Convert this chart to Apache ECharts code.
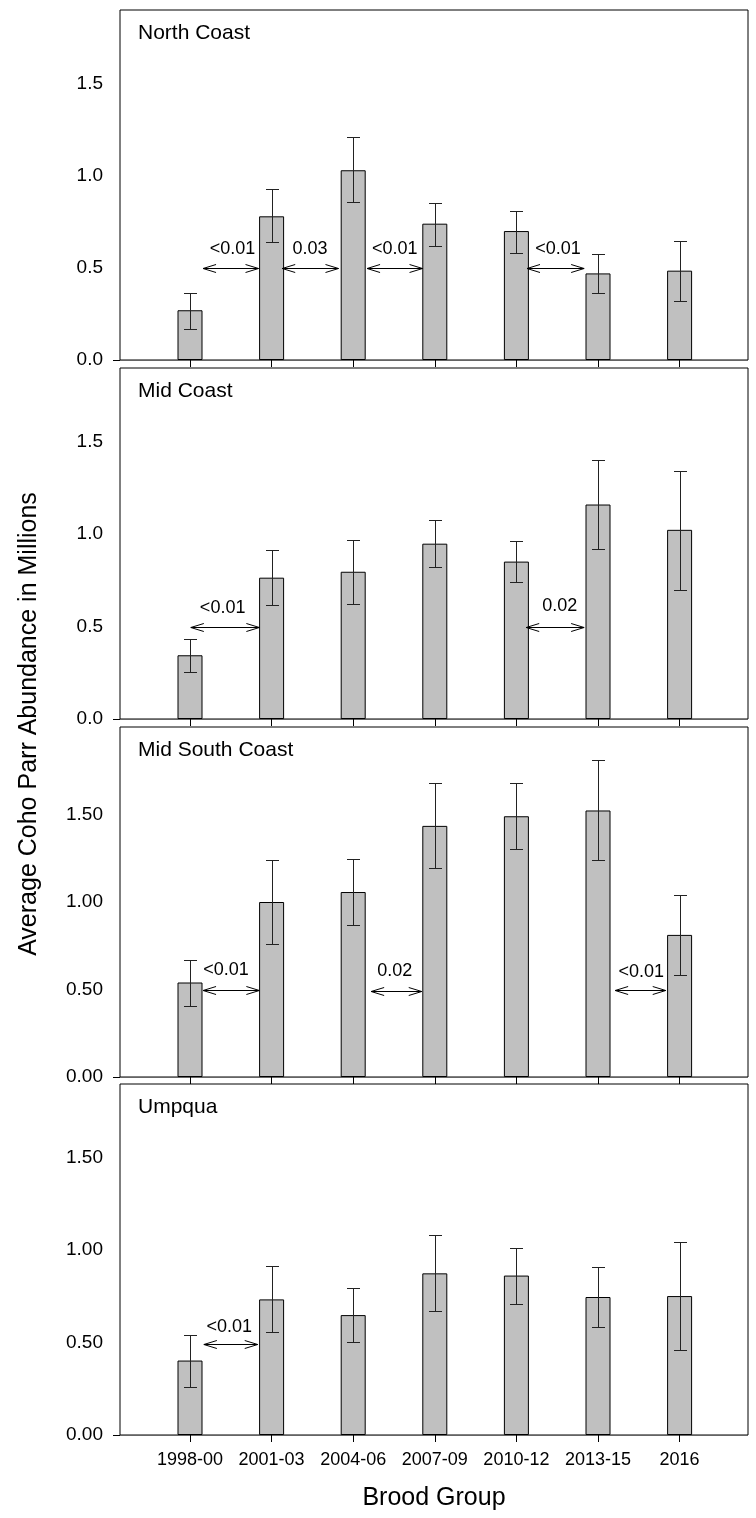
<!DOCTYPE html>
<html><head><meta charset="utf-8">
<script src="https://cdn.jsdelivr.net/npm/echarts/dist/echarts.min.js"></script>
<style>html,body{margin:0;padding:0;background:#fff}#c{width:756px;height:1518px}</style>
</head><body><div id="c"></div>
<script>
const categories = ['1998-00','2001-03','2004-06','2007-09','2010-12','2013-15','2016'];
const panelNames = ['North Coast','Mid Coast','Mid South Coast','Umpqua'];
const northMean = [0.27,0.78,1.03,0.74,0.70,0.47,0.485];
const northLow  = [0.17,0.64,0.86,0.62,0.58,0.365,0.32];
const northHigh = [0.365,0.93,1.21,0.855,0.81,0.575,0.647];
const midMean = [0.345,0.765,0.797,0.949,0.852,1.161,1.024];
const midLow  = [0.257,0.617,0.624,0.823,0.740,0.922,0.700];
const midHigh = [0.434,0.913,0.967,1.078,0.964,1.403,1.344];
const midSouthMean = [0.540,1.000,1.057,1.435,1.490,1.523,0.812];
const midSouthLow  = [0.407,0.759,0.869,1.194,1.304,1.238,0.582];
const midSouthHigh = [0.669,1.241,1.245,1.679,1.679,1.812,1.042];
const umpquaMean = [0.403,0.734,0.649,0.875,0.863,0.747,0.752];
const umpquaLow  = [0.262,0.557,0.503,0.671,0.711,0.584,0.459];
const umpquaHigh = [0.544,0.913,0.796,1.080,1.011,0.911,1.045];
// significance arrows: [from, to (category position), y, p-value label, label position, label y]
const northArrows = [[0.16,0.84,0.5,'<0.01',0.52,0.6],[1.13,1.82,0.5,'0.03',1.47,0.6],[2.17,2.85,0.5,'<0.01',2.51,0.6],[4.13,4.83,0.5,'<0.01',4.51,0.6]];
const midArrows = [[0.01,0.85,0.5,'<0.01',0.4,0.6],[4.12,4.83,0.5,'0.02',4.53,0.61]];
const midSouthArrows = [[0.16,0.85,0.5,'<0.01',0.44,0.612],[2.22,2.84,0.49,'0.02',2.51,0.603],[5.21,5.83,0.5,'<0.01',5.53,0.6]];
const umpquaArrows = [[0.17,0.83,0.495,'<0.01',0.48,0.582]];
const yMax = [1.9,1.9,2.0,1.9];
const yDecimals = [1,1,2,2];
const yTitle = 'Average Coho Parr Abundance in Millions';
const xTitle = 'Brood Group';

const FONT = 'Liberation Sans, Arial, sans-serif';
const panels = [
  {mean: northMean, low: northLow, high: northHigh, arrows: northArrows, top: 10, height: 350},
  {mean: midMean, low: midLow, high: midHigh, arrows: midArrows, top: 368, height: 351},
  {mean: midSouthMean, low: midSouthLow, high: midSouthHigh, arrows: midSouthArrows, top: 727, height: 350},
  {mean: umpquaMean, low: umpquaLow, high: umpquaHigh, arrows: umpquaArrows, top: 1084, height: 351}
];
const FRAME_L = 120, FRAME_W = 628, DATA_L = 149.2, DATA_W = 571.2;

const grid = [], xAxis = [], yAxis = [], series = [], graphic = [];
panels.forEach((p, i) => {
  grid.push({left: FRAME_L, width: FRAME_W, top: p.top, height: p.height, show: true,
    borderColor: '#000', borderWidth: 1, backgroundColor: 'transparent', z: 5});
  grid.push({left: DATA_L, width: DATA_W, top: p.top, height: p.height, show: false});
  xAxis.push({gridIndex: 2*i, type: 'value', min: 0, max: 1, show: false});
  xAxis.push({gridIndex: 2*i+1, type: 'category', data: categories, boundaryGap: true,
    axisLine: {show: false},
    axisTick: {show: true, interval: 0, alignWithLabel: true, length: 7, lineStyle: {color: '#000', width: 1}},
    axisLabel: {show: i === 3, interval: 0, fontSize: 18, color: '#000', fontFamily: FONT, margin: 16},
    splitLine: {show: false}});
  yAxis.push({gridIndex: 2*i, type: 'value', min: 0, max: yMax[i], interval: 0.5,
    axisLine: {show: false},
    axisTick: {show: true, customValues: [0], length: 7, lineStyle: {color: '#000', width: 1}},
    axisLabel: {showMaxLabel: false, fontSize: 19, color: '#000', fontFamily: FONT, margin: 17,
      formatter: v => (Math.abs(v/0.5 - Math.round(v/0.5)) < 1e-6) ? v.toFixed(yDecimals[i]) : ''},
    splitLine: {show: true, lineStyle: {color: '#c8c8c8', width: 1}}});
  yAxis.push({gridIndex: 2*i+1, type: 'value', min: 0, max: yMax[i], show: false});

  series.push({type: 'bar', xAxisIndex: 2*i+1, yAxisIndex: 2*i+1, data: p.mean, barWidth: 25,
    itemStyle: {color: '#c0c0c0', borderColor: '#000', borderWidth: 1}, silent: true, z: 2});
  series.push({type: 'custom', xAxisIndex: 2*i+1, yAxisIndex: 2*i+1, z: 3, silent: true,
    data: categories.map((c, j) => [j, p.low[j], p.high[j]]),
    renderItem: (params, api) => {
      const lo = api.coord([api.value(0), api.value(1)]);
      const hi = api.coord([api.value(0), api.value(2)]);
      const x = Math.round(lo[0]) + 0.5, y1 = Math.round(lo[1]) + 0.5, y2 = Math.round(hi[1]) + 0.5;
      const hw = 6.5, st = {stroke: '#222', lineWidth: 1};
      return {type: 'group', children: [
        {type: 'line', shape: {x1: x, y1: y1, x2: x, y2: y2}, style: st},
        {type: 'line', shape: {x1: x - hw, y1: y1, x2: x + hw, y2: y1}, style: st},
        {type: 'line', shape: {x1: x - hw, y1: y2, x2: x + hw, y2: y2}, style: st}
      ]};
    }});
  series.push({type: 'custom', xAxisIndex: 2*i+1, yAxisIndex: 2*i+1, z: 4, silent: true,
    data: p.arrows.map(a => [0, a[2], a[0], a[1], a[4], a[5]]),
    renderItem: (params, api) => {
      const base = api.coord([0, api.value(1)]);
      const band = api.size([1, 0])[0];
      const y = Math.round(base[1]) + 0.5;
      const x1 = base[0] + api.value(2) * band, x2 = base[0] + api.value(3) * band;
      const lx = base[0] + api.value(4) * band;
      const ly = api.coord([0, api.value(5)])[1];
      const L = 13, H = 4, st = {stroke: '#000', lineWidth: 1, fill: null};
      return {type: 'group', children: [
        {type: 'line', shape: {x1: x1, y1: y, x2: x2, y2: y}, style: st},
        {type: 'polyline', shape: {points: [[x1 + L, y - H], [x1, y], [x1 + L, y + H]]}, style: st},
        {type: 'polyline', shape: {points: [[x2 - L, y - H], [x2, y], [x2 - L, y + H]]}, style: st},
        {type: 'text', style: {text: p.arrows[params.dataIndex][3], x: lx, y: ly, align: 'center',
          verticalAlign: 'middle', fill: '#000', font: '18px ' + FONT}}
      ]};
    }});
  graphic.push({type: 'text', style: {text: panelNames[i], x: 138, y: p.top + 23, align: 'left',
    verticalAlign: 'middle', fill: '#000', font: '21px ' + FONT}, z: 10});
});
graphic.push({type: 'text', style: {text: yTitle, x: 0, y: 0, align: 'center', verticalAlign: 'middle',
  fill: '#000', font: '25px ' + FONT}, x: 29, y: 724, rotation: Math.PI / 2, z: 10});
graphic.push({type: 'text', style: {text: xTitle, x: 434, y: 1498, align: 'center', verticalAlign: 'middle',
  fill: '#000', font: '25px ' + FONT}, z: 10});

const chart = echarts.init(document.getElementById('c'), null, {renderer: 'canvas'});
chart.setOption({animation: false, backgroundColor: '#fff', grid, xAxis, yAxis, series, graphic});
</script>
</body></html>
